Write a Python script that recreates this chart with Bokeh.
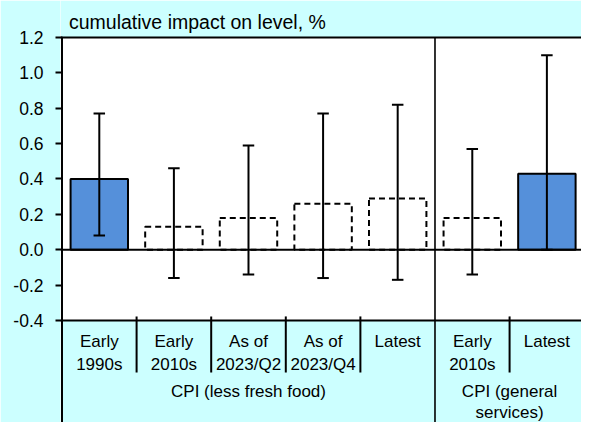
from bokeh.plotting import figure
from bokeh.models import (ColumnDataSource, Whisker, TeeHead, Span, FixedTicker,
                          NumeralTickFormatter, Range1d, BoxAnnotation)
from bokeh.core.properties import value
from bokeh.embed import file_html
from bokeh.resources import INLINE

# ---- data ----
categories = ["Early\n1990s", "Early\n2010s", "As of\n2023/Q2", "As of\n2023/Q4",
              "Latest", "Early\n2010s", "Latest"]
groups = ["CPI (less fresh food)", "CPI (general\nservices)"]
group_sizes = [5, 2]
impact = [0.40, 0.13, 0.18, 0.26, 0.29, 0.18, 0.43]
upper = [0.77, 0.46, 0.59, 0.77, 0.82, 0.57, 1.10]
lower = [0.08, -0.16, -0.14, -0.16, -0.17, -0.14, 0.00]
filled = [True, False, False, False, False, False, True]
y_ticks = [-0.4, -0.2, 0.0, 0.2, 0.4, 0.6, 0.8, 1.0, 1.2]
subtitle = "cumulative impact on level, %"

FONT = "Liberation Sans"
BG = "#CCFFFF"
BLUE = "#5590DA"

n = len(categories)
xs = [i + 0.5 for i in range(n)]

axis_top, axis_bottom = 1.2, -0.4
ymin, ymax = -0.9766, 1.409

p = figure(width=581, height=422, x_range=Range1d(-0.0201, 6.964), y_range=Range1d(ymin, ymax),
           output_backend="svg", toolbar_location=None, x_axis_location=None,
           min_border_left=60, min_border_right=0, min_border_top=0, min_border_bottom=0,
           background_fill_color="white", border_fill_color=BG, outline_line_color=None)
p.grid.visible = False

# left axis (ticks + labels only; line drawn as segment)
p.yaxis.ticker = FixedTicker(ticks=y_ticks)
p.yaxis.formatter = NumeralTickFormatter(format="0.0")
p.yaxis.axis_line_color = None
p.yaxis.major_tick_line_width = 2
p.yaxis.major_tick_line_color = "black"
p.yaxis.major_tick_out = 5
p.yaxis.major_tick_in = 2
p.yaxis.minor_tick_line_color = None
p.yaxis.major_label_text_font = FONT
p.yaxis.major_label_text_font_size = "17.5px"
p.yaxis.major_label_text_color = "black"
p.yaxis.major_label_standoff = 12

# cyan areas above and below the plotting area
p.add_layout(BoxAnnotation(top=axis_bottom, fill_color=BG, fill_alpha=1.0,
                           line_color=None, level="underlay"))
p.add_layout(BoxAnnotation(bottom=axis_top, fill_color=BG, fill_alpha=1.0,
                           line_color=None, level="underlay"))

# bars
src_f = ColumnDataSource(dict(x=[x for x, f in zip(xs, filled) if f],
                              top=[v for v, f in zip(impact, filled) if f]))
src_d = ColumnDataSource(dict(x=[x for x, f in zip(xs, filled) if not f],
                              top=[v for v, f in zip(impact, filled) if not f]))
p.vbar(x="x", top="top", bottom=0, width=0.77, source=src_f,
       fill_color=BLUE, line_color="black", line_width=2)
p.vbar(x="x", top="top", bottom=0, width=0.77, source=src_d,
       fill_color="white", line_color="black", line_width=2, line_dash="6 4")

# error bars
src_e = ColumnDataSource(dict(x=xs, upper=upper, lower=lower))
w = Whisker(source=src_e, base="x", upper="upper", lower="lower",
            line_color="black", line_width=2,
            upper_head=TeeHead(size=11.5, line_width=2, line_color="black"),
            lower_head=TeeHead(size=11.5, line_width=2, line_color="black"))
w.level = "overlay"
p.add_layout(w)

# frame lines
p.add_layout(Span(location=0, dimension="width", line_color="black", line_width=2))
p.add_layout(Span(location=axis_bottom, dimension="width", line_color="black", line_width=2))
p.add_layout(Span(location=axis_top, dimension="width", line_color="black", line_width=2))
p.segment(x0=[0], x1=[0], y0=[axis_top], y1=[ymin], line_color="black", line_width=2)

# separators
bounds = []
acc = 0
for s in group_sizes[:-1]:
    acc += s
    bounds.append(acc)
cat_seps = [i for i in range(1, n) if i not in bounds]
p.segment(x0=cat_seps, x1=cat_seps, y0=[-0.377] * len(cat_seps),
          y1=[-0.694] * len(cat_seps), line_color="black", line_width=2)
p.segment(x0=bounds, x1=bounds, y0=[axis_top] * len(bounds), y1=[ymin] * len(bounds),
          line_color="black", line_width=1.6)

# category labels
p.text(x=xs, y=[-0.466] * n, text=categories, text_font=value(FONT),
       text_font_size="17px", text_align="center", text_baseline="top",
       text_color="black", text_line_height=1.2)

# group labels
starts = [0] + bounds
ends = bounds + [n]
gx = [(a + b) / 2 for a, b in zip(starts, ends)]
p.text(x=gx, y=[-0.750] * len(gx), text=groups, text_font=value(FONT),
       text_font_size="17px", text_align="center", text_baseline="top",
       text_color="black", text_line_height=1.1)

# subtitle
p.text(x=[0.094], y=[1.29], text=[subtitle], text_font=value(FONT),
       text_font_size="19.5px", text_align="left", text_baseline="alphabetic",
       text_color="black")

open("out.html", "w").write(file_html(p, INLINE))
